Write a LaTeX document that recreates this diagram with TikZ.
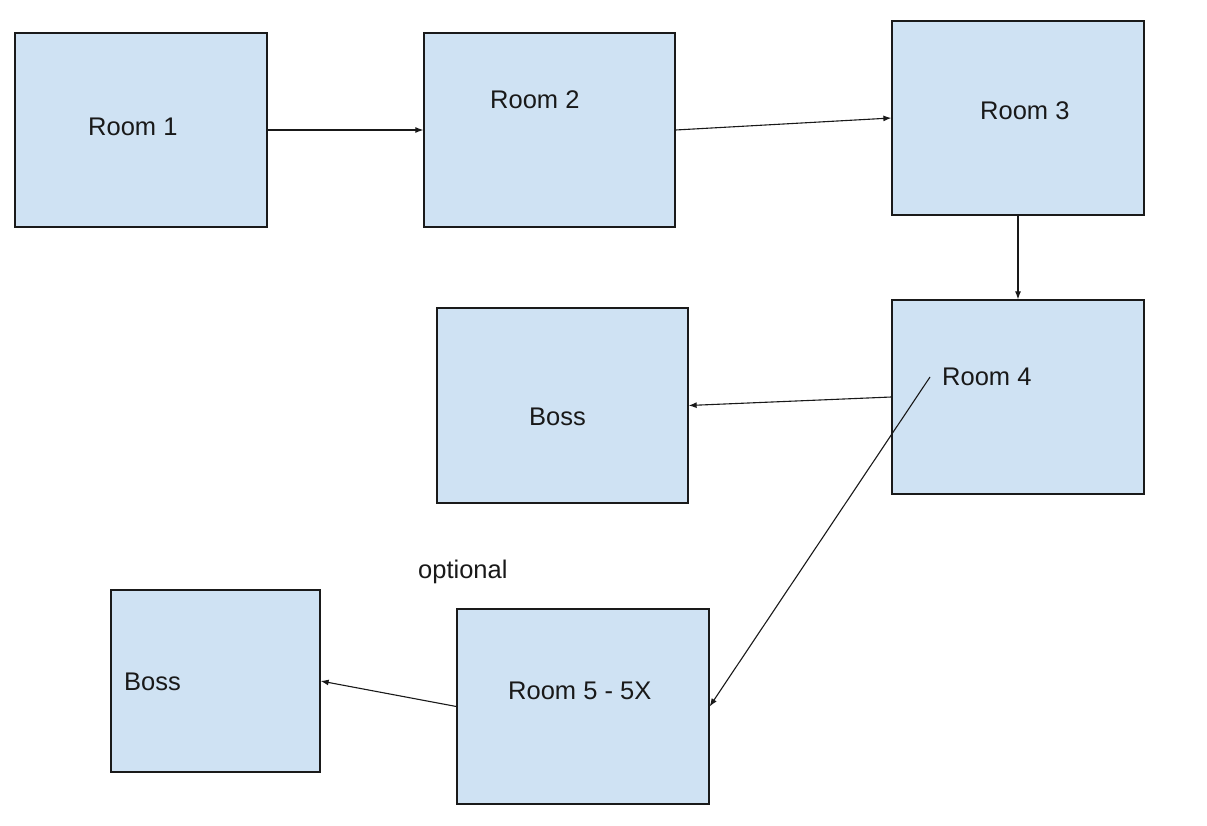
\documentclass[tikz,border=0pt]{standalone}
\usepackage{fontspec}
\setmainfont{Liberation Sans}
\usetikzlibrary{arrows.meta}
\definecolor{boxfill}{HTML}{CFE2F3}
\definecolor{boxline}{HTML}{1A1A1A}
\begin{document}
\begin{tikzpicture}[x=1pt,y=-1pt,
  roombox/.style={draw=boxline,fill=boxfill,line width=1.3pt,inner sep=0pt,rectangle},
  lbl/.style={anchor=base west,inner sep=0pt,font=\fontsize{25.5}{28}\selectfont,text=black!90},
  conn/.style={draw=black!90,line width=1.1pt,-{Latex[length=8pt,width=6pt]}}]
\useasboundingbox (0,0) rectangle (1207,826);
\node[roombox,minimum width=252pt,minimum height=194pt] (r1) at (141,130) {};
\node[roombox,minimum width=251pt,minimum height=194pt] (r2) at (549.5,130) {};
\node[roombox,minimum width=252pt,minimum height=194pt] (r3) at (1018,118) {};
\node[roombox,minimum width=252pt,minimum height=194pt] (r4) at (1018,397) {};
\node[roombox,minimum width=251pt,minimum height=195pt] (b1) at (562.5,405.5) {};
\node[roombox,minimum width=209pt,minimum height=182pt] (b2) at (215.5,681) {};
\node[roombox,minimum width=252pt,minimum height=195pt] (r5) at (583,706.5) {};

\node[lbl] (t1) at (88,136) {Room 1};
\node[lbl] (t2) at (490,108.3) {Room 2};
\node[lbl] (t3) at (980,119.3) {Room 3};
\node[lbl] (t4) at (942,385.7) {Room 4};
\node[lbl] (tb1) at (529,425) {Boss};
\node[lbl] (tb2) at (124,690) {Boss};
\node[lbl] (t5) at (508,699.3) {Room 5 - 5X};
\node[lbl] (opt) at (418,578) {optional};

\coordinate (r4start) at (930,377);
\draw[conn] (r1.east) -- (r2.west);
\draw[conn] (r2.east) -- (r3.west);
\draw[conn] (r3.south) -- (r4.north);
\draw[conn] (r4.west) -- (b1.east);
\draw[conn] (r4start) -- (r5.east);
\draw[conn] (r5.west) -- (b2.east);
\end{tikzpicture}
\end{document}
